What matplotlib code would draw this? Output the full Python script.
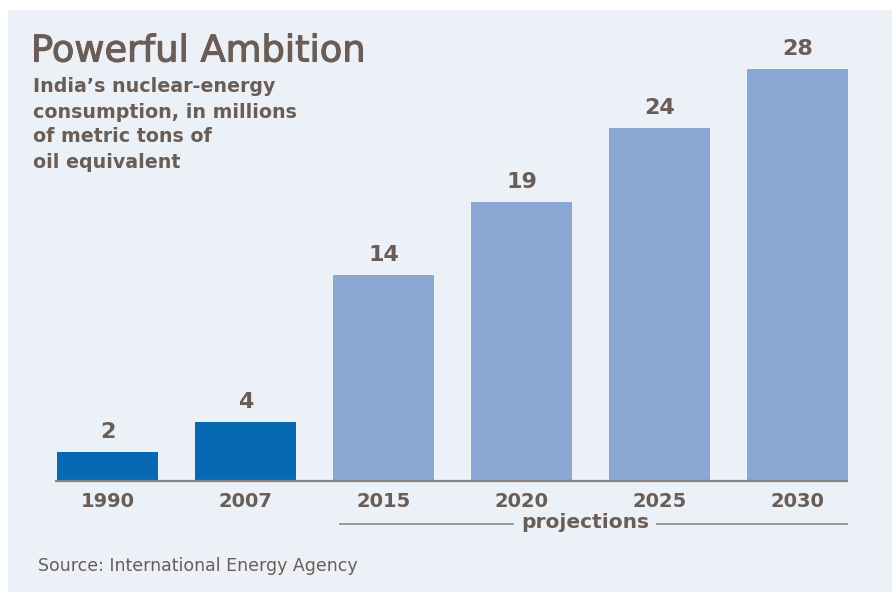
import matplotlib
matplotlib.use("Agg")
import matplotlib.pyplot as plt
import matplotlib.transforms as mtransforms
import matplotlib.patheffects as pe
from matplotlib.patches import Rectangle

# data
years = ["1990", "2007", "2015", "2020", "2025", "2030"]
values = [2, 4, 14, 19, 24, 28]
is_projection = [False, False, True, True, True, True]

title = "Powerful Ambition"
subtitle = ["India\u2019s nuclear-energy", "consumption, in millions",
            "of metric tons of", "oil equivalent"]
source = "Source: International Energy Agency"

W, H = 892, 592
BG = "#ECF0F7"
TXT = "#6A5D55"
DARK = "#0869B3"
LIGHT = "#8AA6D3"

plt.rcParams["font.family"] = ["DejaVu Sans"]

fig = plt.figure(figsize=(W / 100, H / 100), dpi=100)
fig.patch.set_facecolor("white")

# light panel behind everything
fig.patches.append(Rectangle((8 / W, 0), 1 - 8 / W, 1 - 10 / H,
                             transform=fig.transFigure, facecolor=BG,
                             edgecolor="none", zorder=-10))

def fx(px):
    return px / W

def fy(py):
    return 1 - py / H

# axes placed so bar centres line up with the reference
step = 138.0
x0 = 107.5
left_px, right_px = 50, 855
top_px, base_px = 40, 481
ax = fig.add_axes([fx(left_px), fy(base_px), (right_px - left_px) / W,
                   (base_px - top_px) / H])
ax.set_facecolor("none")
ax.set_xlim((left_px - x0) / step, (right_px - x0) / step)
ax.set_ylim(0, (base_px - top_px) / 14.71)

xs = list(range(len(years)))
colors = [LIGHT if p else DARK for p in is_projection]
bars = ax.bar(xs, values, width=101 / step, color=colors, zorder=2)

for x, v in zip(xs, values):
    ax.annotate(str(v), (x, v), xytext=(0, 7), textcoords="offset points",
                ha="center", va="bottom", fontsize=16, fontweight="bold",
                color=TXT)

for s in ax.spines.values():
    s.set_visible(False)
ax.set_yticks([])
ax.set_xticks(xs)
ax.set_xticklabels(years, fontsize=14, fontweight="bold", color=TXT)
ax.tick_params(axis="x", length=0, pad=8)

# baseline
ax.plot([(55 - x0) / step, (848 - x0) / step], [0, 0], color="#8A8580",
        lw=1.6, zorder=3, clip_on=False, solid_capstyle="butt")

# projections bracket
trans = mtransforms.blended_transform_factory(ax.transData, fig.transFigure)
ax.plot([(340 - x0) / step, (513 - x0) / step], [fy(524), fy(524)],
        transform=trans, color="#9A918B", lw=1.3, clip_on=False)
ax.plot([(657 - x0) / step, (847 - x0) / step], [fy(524), fy(524)],
        transform=trans, color="#9A918B", lw=1.3, clip_on=False)
fig.text(fx(585), fy(522), "projections", ha="center", va="center",
         fontsize=14.5, fontweight="bold", color=TXT)

# titles
fig.text(fx(31), fy(51), title, ha="left", va="center", fontsize=26.5,
         color=TXT, path_effects=[pe.withStroke(linewidth=0.8, foreground=TXT)])
for i, line in enumerate(subtitle):
    fig.text(fx(33), fy(87 + i * 25), line, ha="left", va="center",
             fontsize=13.7, fontweight="bold", color=TXT)

fig.text(fx(38), fy(566), source, ha="left", va="center", fontsize=12.5,
         color=TXT)

fig.savefig("out.png", dpi=100, facecolor=fig.get_facecolor())
